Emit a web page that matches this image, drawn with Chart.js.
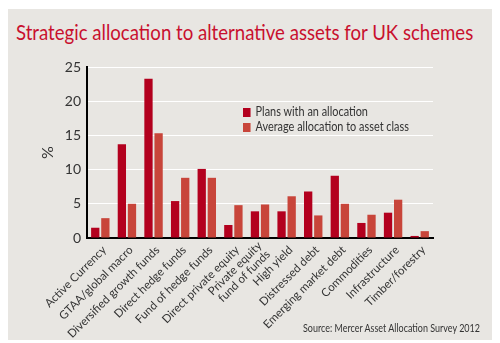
<!DOCTYPE html>
<html>
<head>
<meta charset="utf-8">
<script src="https://cdn.jsdelivr.net/npm/chart.js@4.4.0/dist/chart.umd.min.js"></script>
<style>
  html, body { margin: 0; padding: 0; background: #fff; }
  body { width: 500px; height: 343px; position: relative; overflow: hidden; font-family: Lato, sans-serif; }
  .panel { position: absolute; left: 8px; top: 9px; width: 484px; height: 331px; background: #e8e6e2; }
  .fit { position: absolute; white-space: nowrap; transform-origin: 0 0; }
  .title { left: 16px; top: 19px; font-size: 21px; color: #c8102e; }
  .legend { left: 243px; top: 104px; font-size: 13px; color: #333; }
  .legend div { height: 15px; line-height: 15px; white-space: nowrap; }
  .legend span { display: inline-block; width: 9px; height: 9px; margin-right: 6px; vertical-align: -1px; }
  .source { left: 303px; top: 321px; font-size: 11px; color: #333; }
  canvas { position: absolute; left: 0; top: 0; }
</style>
</head>
<body>
<div class="panel"></div>
<div class="fit title" data-w="457">Strategic allocation to alternative assets for UK schemes</div>
<canvas id="allocChart" width="500" height="343"></canvas>
<div class="fit legend" data-w="166">
  <div><span style="background:#b3001e"></span>Plans with an allocation</div>
  <div><span style="background:#c8453a"></span>Average allocation to asset class</div>
</div>
<div class="fit source" data-w="177">Source: Mercer Asset Allocation Survey 2012</div>
<script>
/* Mercer survey: alternative asset allocations, UK schemes */

const categories = [
  "Active Currency",
  "GTAA/global macro",
  "Diversified growth funds",
  "Direct hedge funds",
  "Fund of hedge funds",
  "Direct private equity",
  ["Private equity", "fund of funds"],
  "High yield",
  "Distressed debt",
  "Emerging market debt",
  "Commodities",
  "Infrastructure",
  "Timber/forestry",
];

const plansWithAllocation = [1.5, 13.7, 23.3, 5.4, 10.1, 1.9, 3.9, 3.9, 6.8, 9.1, 2.2, 3.7, 0.3];
const averageAllocation = [2.9, 5.0, 15.3, 8.8, 8.8, 4.8, 4.9, 6.1, 3.3, 5.0, 3.4, 5.6, 1.0];

const yTicks = [0, 5, 10, 15, 20, 25];

const COLORS = {
  dark: "#b3001e",
  light: "#c8453a",
  text: "#333333",
  grid: "#ffffff",
  axis: "#000000",
};

const FONT = "Lato, sans-serif";

// squeeze the html texts to the widths seen in the original
document.querySelectorAll(".fit").forEach((el) => {
  const w = el.scrollWidth;
  const target = Number(el.dataset.w);
  if (w > 0) el.style.transform = `scaleX(${target / w})`;
});

// category labels at 45deg, ends sitting just right of each tick,
// two-line labels centred on the tick instead of hanging below it
const slantedLabels = {
  id: "slantedLabels",
  afterDraw(chart) {
    const xs = chart.scales.x;
    const ctx = chart.ctx;
    const lh = 12;
    ctx.save();
    ctx.font = `11.5px ${FONT}`;
    ctx.fillStyle = COLORS.text;
    ctx.textAlign = "right";
    ctx.textBaseline = "middle";
    categories.forEach((lab, i) => {
      const lines = Array.isArray(lab) ? lab : [lab];
      ctx.save();
      ctx.translate(xs.getPixelForTick(i) + 4, xs.top + 10);
      ctx.rotate(-Math.PI / 4);
      const start = -((lines.length - 1) * lh) / 2;
      lines.forEach((ln, j) => ctx.fillText(ln, 0, start + j * lh));
      ctx.restore();
    });
    ctx.restore();
  },
};

new Chart(document.getElementById("allocChart"), {
  type: "bar",
  data: {
    labels: categories,
    datasets: [
      {
        label: "Plans with an allocation",
        data: plansWithAllocation,
        backgroundColor: COLORS.dark,
        categoryPercentage: 0.76,
        barPercentage: 0.82,
      },
      {
        label: "Average allocation to asset class",
        data: averageAllocation,
        backgroundColor: COLORS.light,
        categoryPercentage: 0.76,
        barPercentage: 0.82,
      },
    ],
  },
  plugins: [slantedLabels],
  options: {
    responsive: false,
    animation: false,
    devicePixelRatio: 1,
    layout: { padding: { left: 38, right: 67, top: 67, bottom: 0 } },
    plugins: {
      legend: { display: false },
      tooltip: { enabled: false },
    },
    scales: {
      x: {
        grid: { display: false, drawTicks: false },
        border: { color: COLORS.axis, width: 2 },
        ticks: { display: false },
        afterFit: (axis) => { axis.height = 105; },
      },
      y: {
        min: 0,
        max: 25,
        afterBuildTicks: (axis) => { axis.ticks = yTicks.map((v) => ({ value: v })); },
        grid: {
          color: (ctx) => (ctx.tick && ctx.tick.value === 0 ? "rgba(0,0,0,0)" : COLORS.grid),
          lineWidth: 1,
          drawTicks: false,
        },
        border: { color: COLORS.axis, width: 2 },
        ticks: {
          color: COLORS.text,
          font: { family: FONT, size: 14 },
          padding: 6,
        },
        title: {
          display: true,
          text: "%",
          color: COLORS.text,
          font: { family: FONT, size: 16 },
          padding: 0,
        },
        afterFit: (axis) => { axis.width = 49; },
      },
    },
  },
});
</script>
</body>
</html>
